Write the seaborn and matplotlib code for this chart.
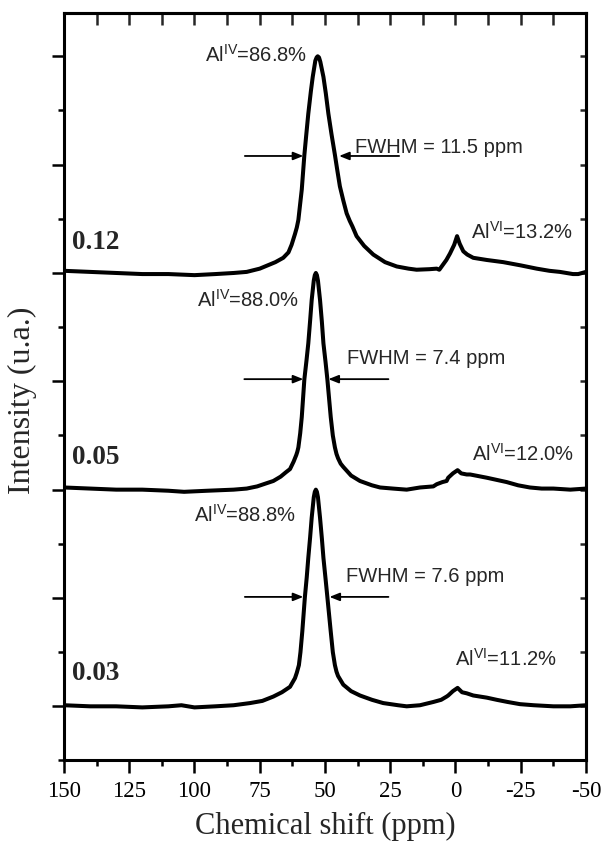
import matplotlib
matplotlib.use("Agg")
import numpy as np
import pandas as pd
import matplotlib.pyplot as plt
import seaborn as sns
from matplotlib.ticker import MultipleLocator, NullFormatter

# 27Al MAS NMR spectra (normalised intensity, baseline = 0) for three compositions
ppm_012 = [150, 140, 130, 120, 110, 100, 92, 85, 80, 75, 72, 69, 66, 64, 62.8, 61.5,
           60.8, 60.2, 59.6, 58.9, 58.4, 57.9, 57.2, 56.4, 55.4, 54.7, 53.7, 53.2,
           52.8, 52.3, 51.8, 50.6, 49.7, 48.7, 47.5, 46.2, 45.3, 44.3, 43.0, 41.7,
           40.5, 39.5, 37.9, 35, 31.5, 27, 22.5, 18, 14.9, 10, 7.2, 6.2, 5.3, 3.5,
           2.1, 0.5, -0.6, -1.6, -3.0, -4.5, -6.8, -12, -18.3, -25, -31.1, -36, -40,
           -45, -47, -50]
int_012 = [0.02, 0.01, 0.00, -0.01, -0.01, -0.02, -0.01, 0.00, 0.01, 0.04, 0.07, 0.10,
           0.14, 0.19, 0.26, 0.36, 0.42, 0.49, 0.62, 0.77, 0.93, 1.09, 1.27, 1.47,
           1.68, 1.81, 1.96, 1.99, 2.00, 1.99, 1.95, 1.81, 1.66, 1.47, 1.28, 1.09,
           0.95, 0.80, 0.67, 0.55, 0.48, 0.43, 0.34, 0.25, 0.17, 0.10, 0.06, 0.04,
           0.03, 0.035, 0.04, 0.03, 0.06, 0.12, 0.18, 0.26, 0.34, 0.27, 0.20, 0.17,
           0.14, 0.12, 0.10, 0.07, 0.04, 0.02, 0.01, -0.01, -0.01, 0.01]

ppm_005 = [150, 140, 130, 120, 110, 104, 95, 85, 80, 76, 72.3, 69.8, 67, 65, 63.4, 62,
           61, 60.6, 60.2, 59.5, 58.9, 57.9, 57.1, 56.4, 55.7, 55.1, 54.3, 53.9, 53.5,
           53.1, 52.7, 51.9, 51.2, 50.6, 49.8, 49.1, 47.8, 47.0, 46.2, 45.6, 45,
           44.0, 43.0, 40, 36.6, 32, 28.9, 24, 18.7, 13.6, 8.5, 7.2, 5, 3.4, 2.8,
           1.0, -0.8, -2.2, -4.3, -5.6, -12, -19.6, -24, -28.5, -33, -37.5, -44, -50]
int_005 = [0.02, 0.01, 0.00, 0.00, -0.01, -0.02, -0.01, 0.00, 0.01, 0.03, 0.06, 0.08,
           0.12, 0.16, 0.19, 0.26, 0.32, 0.35, 0.39, 0.52, 0.67, 1.02, 1.19, 1.35,
           1.56, 1.75, 1.93, 1.98, 2.00, 1.98, 1.93, 1.75, 1.55, 1.35, 1.18, 1.02,
           0.67, 0.50, 0.39, 0.33, 0.29, 0.24, 0.21, 0.13, 0.08, 0.04, 0.02, 0.01,
           0.00, 0.02, 0.03, 0.05, 0.07, 0.08, 0.11, 0.15, 0.18, 0.15, 0.14, 0.14,
           0.11, 0.07, 0.04, 0.02, 0.01, 0.01, 0.00, 0.01]

ppm_003 = [150, 140, 130, 120, 110, 105, 100, 92, 85, 78.7, 74, 69.8, 66.5, 63.4, 61.5,
           60.8, 60.0, 59.4, 58.7, 57.7, 57.0, 56.4, 55.7, 55.1, 54.3, 53.9, 53.5,
           53.1, 52.7, 51.9, 51.2, 50.6, 49.8, 49.1, 47.8, 47.0, 46.2, 45.6, 45,
           44.0, 43.0, 40, 36.6, 32, 27.7, 22, 18.7, 13.6, 8.5, 5.5, 3.4, 2.8, 1.0,
           -0.8, -2.5, -4.3, -6.8, -12, -15.8, -20, -24.7, -30, -37.5, -44, -50]
int_003 = [0.01, 0.00, 0.00, -0.01, 0.00, 0.01, -0.01, 0.00, 0.01, 0.03, 0.05, 0.09,
           0.13, 0.18, 0.26, 0.31, 0.38, 0.50, 0.69, 1.01, 1.19, 1.37, 1.56, 1.74,
           1.93, 1.98, 2.00, 1.98, 1.93, 1.74, 1.55, 1.37, 1.18, 1.01, 0.69, 0.50,
           0.38, 0.32, 0.28, 0.24, 0.20, 0.14, 0.10, 0.06, 0.03, 0.01, 0.00, 0.01,
           0.04, 0.06, 0.09, 0.10, 0.14, 0.17, 0.13, 0.12, 0.10, 0.08, 0.06, 0.04,
           0.02, 0.01, 0.00, 0.00, 0.01]

samples = ["0.03", "0.05", "0.12"]
al_iv = ["88.8", "88.0", "86.8"]
al_vi = ["11.2", "12.0", "13.2"]
fwhm = ["7.6", "7.4", "11.5"]

# vertical stacking of the spectra
offsets = [0, 2, 4]

spectra = [(ppm_003, int_003), (ppm_005, int_005), (ppm_012, int_012)]
frames = []
for name, off, (x, y) in zip(samples, offsets, spectra):
    frames.append(pd.DataFrame({"ppm": x, "intensity": np.asarray(y) + off, "sample": name}))
df = pd.concat(frames, ignore_index=True)

sns.set_style("ticks")
plt.rcParams["font.family"] = ["Liberation Serif", "DejaVu Serif"]
plt.rcParams["mathtext.fontset"] = "custom"
plt.rcParams["mathtext.rm"] = "Liberation Sans"
plt.rcParams["mathtext.it"] = "Liberation Sans:italic"
plt.rcParams["mathtext.bf"] = "Liberation Sans:bold"

fig = plt.figure(figsize=(6.06, 8.48), dpi=100)
ax = fig.add_axes([0.1056, 0.1032, 0.8614, 0.8815])

sns.lineplot(data=df, x="ppm", y="intensity", units="sample", estimator=None,
             sort=False, color="black", lw=2.9, ax=ax, legend=False)
for ln in ax.get_lines():
    ln.set_solid_joinstyle("round")
    ln.set_solid_capstyle("round")

ax.set_xlim(150, -50)
ax.set_ylim(-0.5, 6.4)
ax.xaxis.set_major_locator(MultipleLocator(25))
ax.xaxis.set_minor_locator(MultipleLocator(12.5))
ax.yaxis.set_major_locator(MultipleLocator(1))
ax.yaxis.set_minor_locator(MultipleLocator(0.5))
ax.yaxis.set_major_formatter(NullFormatter())
ax.set_xticklabels([f"{int(v)}" for v in ax.get_xticks()])

for s in ax.spines.values():
    s.set_linewidth(2.2)
    s.set_color("black")
ax.tick_params(which="major", direction="out", length=9, width=1.8, labelsize=16.5,
               pad=6, color="black", labelcolor="black")
ax.tick_params(which="minor", direction="out", length=4.3, width=1.8, color="black")

# mirrored inward ticks on the opposite axes
secx = ax.secondary_xaxis("top")
secx.xaxis.set_major_locator(MultipleLocator(12.5))
secx.tick_params(direction="in", length=8.5, width=1.8, labeltop=False)
secx.spines["top"].set_linewidth(2.2)
secy = ax.secondary_yaxis("right")
secy.yaxis.set_major_locator(MultipleLocator(0.5))
secy.tick_params(direction="in", length=4.5, width=1.8, labelright=False)
secy.spines["right"].set_linewidth(2.2)

ax.set_xlabel("Chemical shift (ppm)", fontsize=22, labelpad=7)
ax.set_ylabel("Intensity (u.a.)", fontsize=23)
ax.yaxis.set_label_coords(-0.052, 0.482)

# annotations: sample label, Al(IV)/Al(VI) fractions and FWHM arrows
sample_pos = [(146.9, 0.24), (146.9, 2.24), (146.9, 4.22)]
aliv_pos = [(60.9, 1.705), (59.8, 3.69), (56.9, 5.95)]
alvi_pos = [(0.2, 0.37), (-6.2, 2.27), (-5.8, 4.32)]
fwhm_pos = [(41.95, 1.15), (41.5, 3.16), (38.5, 5.11)]
arrow_left = [(80.7, 58.3), (80.9, 58.3), (80.7, 58.3)]
arrow_right = [(25.7, 48.3), (25.7, 48.7), (21.6, 44.6)]
arrow_y = [1.01, 3.02, 5.08]

sans = ["Liberation Sans", "DejaVu Sans"]
for i in range(3):
    ax.text(*sample_pos[i], samples[i], fontsize=19.5, fontweight="bold",
            ha="left", va="baseline")
    ax.text(*aliv_pos[i], r"Al$^{\mathrm{IV}}$=" + al_iv[i] + "%", family=sans,
            fontsize=14.5, ha="right", va="baseline")
    ax.text(*alvi_pos[i], r"Al$^{\mathrm{VI}}$=" + al_vi[i] + "%", family=sans,
            fontsize=14.5, ha="left", va="baseline")
    ax.text(*fwhm_pos[i], f"FWHM = {fwhm[i]} ppm", family=sans,
            fontsize=14.5, ha="left", va="baseline")
    for tail, tip in (arrow_left[i], arrow_right[i]):
        ax.annotate("", xy=(tip, arrow_y[i]), xytext=(tail, arrow_y[i]),
                    arrowprops=dict(arrowstyle="-|>,head_length=0.6,head_width=0.24",
                                    lw=1.3, color="black", shrinkA=0, shrinkB=0))

fig.savefig("out.png", dpi=100)
